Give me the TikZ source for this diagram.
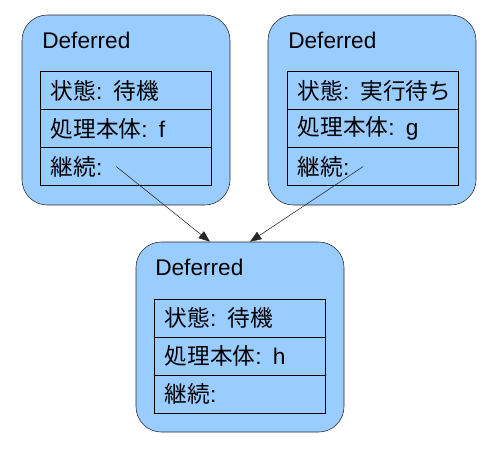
\documentclass[tikz,border=0pt]{standalone}
\usepackage{fontspec}
\setmainfont{Liberation Sans}
\newfontfamily\jpfont{Noto Sans CJK JP}
\usetikzlibrary{arrows.meta}
\definecolor{deferredblue}{HTML}{99CCFF}

\begin{document}
\begin{tikzpicture}[x=0.75pt,y=-0.75pt,
    font=\fontsize{17pt}{20pt}\selectfont,
    box/.style={draw=black!85, fill=deferredblue, rounded corners=19pt,
        minimum width=156pt, minimum height=142.5pt, inner sep=0pt},
    title/.style={anchor=base west, inner sep=0pt},
    cell/.style={draw, fill=deferredblue, minimum height=28.5pt,
        text width=112.25pt, inner xsep=8pt, inner ysep=0pt, align=left},
    link/.style={-{Triangle[length=8.5pt,width=6.5pt]}, black!85}]
    \useasboundingbox[fill=white] (0,0) rectangle (500,450);

    % left deferred
    \node[box] (b1) at (126,110) {};
    \node[title] (t1) at (42,48) {Deferred};
    \node[cell] (s1) at (125.5,90.5) {{\jpfont 状態}: {\jpfont 待機}};
    \node[cell] (p1) at (125.5,128.5) {{\jpfont 処理本体}: f};
    \node[cell] (k1) at (125.5,166.5) {{\jpfont 継続}:};

    % right deferred
    \node[box] (b2) at (372,110) {};
    \node[title] (t2) at (288,48) {Deferred};
    \node[cell] (s2) at (372.5,90.5) {\mbox{{\jpfont 状態}: {\jpfont 実行待ち}}};
    \node[cell] (p2) at (372.5,128.5) {{\jpfont 処理本体}: g};
    \node[cell] (k2) at (372.5,166.5) {{\jpfont 継続}:};

    % bottom deferred
    \node[box] (b3) at (240,337) {};
    \node[title] (t3) at (155,275) {Deferred};
    \node[cell] (s3) at (239.5,318) {{\jpfont 状態}: {\jpfont 待機}};
    \node[cell] (p3) at (239.5,356) {{\jpfont 処理本体}: h};
    \node[cell] (k3) at (239.5,394) {{\jpfont 継続}:};

    \coordinate (c1) at ([xshift=-7pt]k1.center);
    \coordinate (c2) at ([xshift=-7pt]k2.center);
    \coordinate (e1) at ([xshift=-22.5pt]b3.north);
    \coordinate (e2) at ([xshift=7.5pt]b3.north);
    \draw[link] (c1) -- (e1);
    \draw[link] (c2) -- (e2);
\end{tikzpicture}
\end{document}
